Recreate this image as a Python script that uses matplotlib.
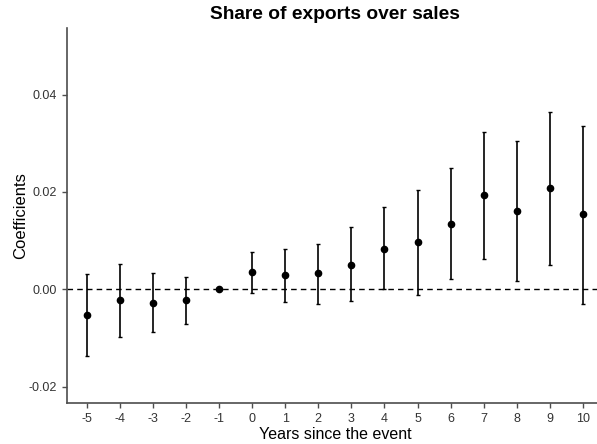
import numpy as np
import matplotlib
matplotlib.use("Agg")
import matplotlib.pyplot as plt

plt.rcParams['font.family'] = ['Liberation Sans', 'DejaVu Sans']

# coefficienti per anno relativo all'evento, con intervalli di confidenza
anni = [-5, -4, -3, -2, -1, 0, 1, 2, 3, 4, 5, 6, 7, 8, 9, 10]
coef = [-0.0053, -0.0023, -0.0028, -0.0023, 0.0, 0.0035, 0.0029, 0.0033, 0.0049,
        0.0082, 0.0097, 0.0135, 0.0193, 0.0160, 0.0208, 0.0154]
ci_alto = [0.0031, 0.0052, 0.0033, 0.0025, 0.0, 0.0077, 0.0083, 0.0094, 0.0127,
           0.0169, 0.0204, 0.0249, 0.0323, 0.0304, 0.0365, 0.0336]
ci_basso = [-0.0137, -0.0099, -0.0088, -0.0071, 0.0, -0.0007, -0.0026, -0.0030, -0.0025,
            0.0000, -0.0011, 0.0021, 0.0062, 0.0016, 0.0049, -0.0030]

coef = np.array(coef)
err_sopra = np.array(ci_alto) - coef
err_sotto = coef - np.array(ci_basso)

fig = plt.figure(figsize=(5.97, 4.44), dpi=100)
# il pannello esce leggermente oltre il bordo destro della figura
ax = fig.add_axes([0.1117, 0.0917, 0.8983, 0.8452])

ax.axhline(0, color='black', linestyle=(0, (4, 3)), linewidth=1.0, zorder=1)
ax.errorbar(anni, coef, yerr=[err_sotto, err_sopra], fmt='o', color='black',
            ecolor='black', elinewidth=1.2, capsize=1.5, capthick=1.0,
            markersize=4.5, zorder=3)

ax.set_xlim(-5.6, 10.6)
ax.set_ylim(-0.02344, 0.0537)
ax.set_xticks(anni)
ax.set_xticklabels([str(a) for a in anni])
ax.set_yticks([-0.02, 0.0, 0.02, 0.04])
ax.set_yticklabels(['-0.02', '0.00', '0.02', '0.04'])

for lato in ['top', 'right']:
    ax.spines[lato].set_visible(False)
for lato in ['left', 'bottom']:
    ax.spines[lato].set_color('#4d4d4d')
    ax.spines[lato].set_linewidth(1.2)
ax.tick_params(colors='#4d4d4d', labelcolor='#333333', labelsize=9,
               length=3.5, width=1.0, direction='out')

ax.set_xlabel("Years since the event", fontsize=11.5)
ax.xaxis.set_label_coords(0.5, -0.063)
ax.set_ylabel("Coefficients", fontsize=12)
ax.yaxis.set_label_coords(-0.071, 0.5)
fig.suptitle("Share of exports over sales", fontsize=13.8, fontweight='bold',
             x=0.561, y=0.986, va='top')

fig.savefig("out.png", dpi=100)
